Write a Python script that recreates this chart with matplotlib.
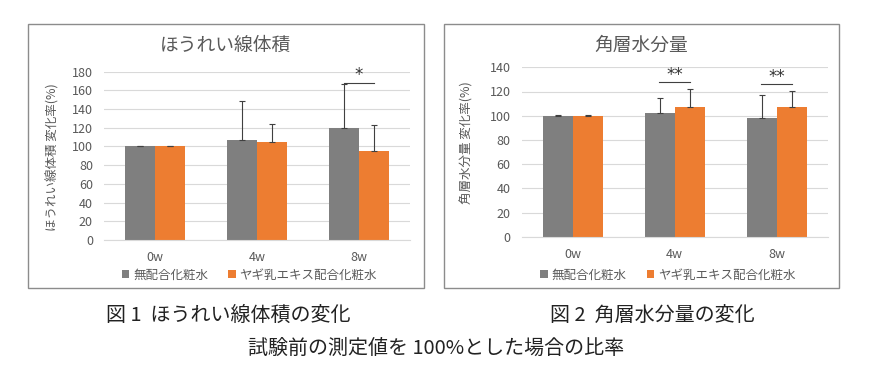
import numpy as np
import matplotlib
matplotlib.use("Agg")
import matplotlib.pyplot as plt
from matplotlib.patches import Rectangle

plt.rcParams['font.family'] = ['Noto Sans CJK JP', 'DejaVu Sans']

# data
categories = ['0w', '4w', '8w']
series_names = ['無配合化粧水', 'ヤギ乳エキス配合化粧水']

wrinkle_plain = [100, 107, 119.4]
wrinkle_plain_err = [0.3, 41.6, 47.8]
wrinkle_goat = [100, 104.4, 94.8]
wrinkle_goat_err = [0.3, 19.3, 27.8]

moist_plain = [100, 102.1, 98.2]
moist_plain_err = [0.3, 12.2, 18.6]
moist_goat = [100, 107.6, 107.6]
moist_goat_err = [0.3, 14.1, 12.8]

# significance marks: (category index, bracket level, label)
wrinkle_sig = [(2, 168, '*')]
moist_sig = [(1, 127.5, '**'), (2, 125.8, '**')]

GRAY = '#7f7f7f'
ORANGE = '#ed7d31'
TXT = '#595959'

W, H = 876, 373
fig = plt.figure(figsize=(W / 100, H / 100), dpi=100)


def px_axes(x0, y0, x1, y1):
    return fig.add_axes([x0 / W, 1 - y1 / H, (x1 - x0) / W, (y1 - y0) / H])


def draw_panel(ax, plain, plain_err, goat, goat_err, ymax, step, sigs, title,
               ylabel, box, ylab_pos, leg_anchor):
    x = np.arange(len(categories))
    bw = 0.294
    ax.bar(x - bw / 2, plain, bw, color=GRAY, label=series_names[0], zorder=2)
    ax.bar(x + bw / 2, goat, bw, color=ORANGE, label=series_names[1], zorder=2)
    z = [0] * len(categories)
    ax.errorbar(x - bw / 2, plain, yerr=[z, plain_err], fmt='none',
                ecolor='#404040', elinewidth=0.8, capsize=2.5, capthick=0.8, zorder=3)
    ax.errorbar(x + bw / 2, goat, yerr=[z, goat_err], fmt='none',
                ecolor='#404040', elinewidth=0.8, capsize=2.5, capthick=0.8, zorder=3)

    for ci, lvl, lab in sigs:
        ax.plot([ci - 0.15, ci + 0.15], [lvl, lvl], color='#404040', lw=0.8)
        ax.text(ci, lvl + ymax * 0.045, lab, ha='center', va='center',
                fontsize=12, color='#333333', family='DejaVu Sans')

    ax.set_xlim(-0.5, len(categories) - 0.5)
    ax.set_ylim(0, ymax)
    ax.set_yticks(np.arange(0, ymax + 1, step))
    ax.set_xticks(x)
    ax.set_xticklabels(categories)
    ax.tick_params(length=0, colors=TXT, labelsize=9)
    ax.tick_params(axis='y', pad=8)
    ax.tick_params(axis='x', pad=8)
    ax.yaxis.grid(True, color='#d9d9d9', lw=0.8)
    ax.set_axisbelow(True)
    for s in ['top', 'right', 'left']:
        ax.spines[s].set_visible(False)
    ax.spines['bottom'].set_color('#d9d9d9')

    ax.legend(loc='center', bbox_to_anchor=leg_anchor, ncol=2, frameon=False,
              fontsize=9, handlelength=0.6, handleheight=0.6, handletextpad=0.3,
              columnspacing=1.6, labelcolor=TXT)

    bx0, by0, bx1, by1 = box
    fig.add_artist(Rectangle((bx0 / W, 1 - by1 / H), (bx1 - bx0) / W, (by1 - by0) / H,
                             transform=fig.transFigure, fill=False,
                             ec='#8c8c8c', lw=1))
    fig.text((bx0 + bx1) / 2 / W, 1 - 45 / H, title, ha='center', va='center',
             fontsize=13.5, color=TXT)
    fig.text(ylab_pos[0] / W, 1 - ylab_pos[1] / H, ylabel, rotation=90,
             ha='center', va='center', fontsize=9, color=TXT)


ax1 = px_axes(104, 71.7, 410, 240)
draw_panel(ax1, wrinkle_plain, wrinkle_plain_err, wrinkle_goat, wrinkle_goat_err,
           180, 20, wrinkle_sig, 'ほうれい線体積', 'ほうれい線体積 変化率(%)',
           (28, 24, 424, 288), (53, 157), (0.475, -0.208))

ax2 = px_axes(521.7, 67.3, 827.7, 236.7)
draw_panel(ax2, moist_plain, moist_plain_err, moist_goat, moist_goat_err,
           140, 20, moist_sig, '角層水分量', '角層水分量 変化率(%)',
           (444, 24, 839, 288), (467, 143), (0.478, -0.226))

fig.text(228.5 / W, 1 - 315 / H, '図 1  ほうれい線体積の変化', ha='center', va='center',
         fontsize=14.4, color='#222222')
fig.text(652.5 / W, 1 - 315 / H, '図 2  角層水分量の変化', ha='center', va='center',
         fontsize=14.4, color='#222222')
fig.text(436.5 / W, 1 - 348 / H, '試験前の測定値を 100%とした場合の比率', ha='center',
         va='center', fontsize=14.4, color='#222222')

fig.savefig('out.png', dpi=100, facecolor='white')
